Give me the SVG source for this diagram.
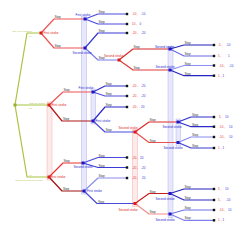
<svg xmlns="http://www.w3.org/2000/svg" width="250" height="240" viewBox="0 0 250 240">
<style>
text{font-family:"Liberation Sans",Arial,sans-serif;font-size:3px}
.e{fill:none;stroke-width:1.2;stroke-linejoin:round}
.g{stroke:#a8c440}
.stop{fill:#333}
.pr{fill:#e83030}
.pb{fill:#3030e0}
.lr{fill:#e02020}
.lb{fill:#2424d0}
.lg{fill:#a8c040;font-size:2.2px}
.bb{fill:#e8e8fc;stroke:#b4b4f0;stroke-width:.5}
.rb{fill:#fdeaea;stroke:#f4b0b0;stroke-width:.5}
.nr{fill:#e01818}
.nb{fill:#1818c8}
.nt{fill:#111}
.ng{fill:#98b030}
</style>
<rect width="250" height="240" fill="#fff"/>
<g id="infosets">
<rect class="bb" x="81.5" y="16" width="5" height="178"/>
<rect class="bb" x="91" y="89" width="4.5" height="35"/>
<rect class="rb" x="47" y="102" width="5" height="78"/>
<rect class="rb" x="132.5" y="129.5" width="5" height="77"/>
<rect class="bb" x="168" y="46.5" width="5" height="171"/>
<rect class="bb" x="176" y="119" width="4.5" height="27"/>
</g>
<g id="connectors">
<path class="e g" d="M15 105L27 33L41 33"/>
<path class="e g" d="M15 105L49 105"/>
<path class="e g" d="M15 105L27 177L49 177"/>
<path class="e" stroke="#ee5555" d="M41 33L54 19L85 19"/>
<path class="e" stroke="#ee5555" d="M41 33L54 48L85 48"/>
<path class="e" stroke="#4a4ae0" d="M85 19L98 14L127 14"/>
<path class="e" stroke="#4a4ae0" d="M85 19L98 24L127 24"/>
<path class="e" stroke="#3a3ad8" d="M85 48L98 33L127 33"/>
<path class="e" stroke="#7a7aee" d="M85 48L98 60L119 60"/>
<path class="e" stroke="#d42a2a" d="M119 60L133 49L170 49"/>
<path class="e" stroke="#e03a3a" d="M119 60L133 70L170 70"/>
<path class="e" stroke="#2424b8" d="M170 49L184 45L214 45"/>
<path class="e" stroke="#6a6ae8" d="M170 49L184 56L214 56"/>
<path class="e" stroke="#8e8ef2" d="M170 70L184 65.5L214 65.5"/>
<path class="e" stroke="#2424c0" d="M170 70L184 75.7L214 75.7"/>
<path class="e" stroke="#ee5555" d="M49 105L63 92L93 92"/>
<path class="e" stroke="#b01818" d="M49 105L62 121L93 121"/>
<path class="e" stroke="#3030d0" d="M93 92L105 86L127 86"/>
<path class="e" stroke="#4e4ee0" d="M93 92L105 96L127 96"/>
<path class="e" stroke="#2a2ac8" d="M93 121L105 107L127 107"/>
<path class="e" stroke="#4a4ae0" d="M93 121L105 132L135 132"/>
<path class="e" stroke="#e02a2a" d="M135 132L149 122L178 122"/>
<path class="e" stroke="#e85050" d="M135 132L149 142.5L178 142.5"/>
<path class="e" stroke="#3030c8" d="M178 122L191 117L214 117"/>
<path class="e" stroke="#2a2ac8" d="M178 122L191 126.7L214 126.7"/>
<path class="e" stroke="#8a8af0" d="M178 142.5L191 137L214 137"/>
<path class="e" stroke="#3a3ad4" d="M178 142.5L191 148L214 148"/>
<path class="e" stroke="#e83030" d="M49 177L63 163L83 163"/>
<path class="e" stroke="#a01010" d="M49 177L62 191L84 191"/>
<path class="e" stroke="#4a4ae0" d="M83 163L98 157.5L127 157.5"/>
<path class="e" stroke="#3a3ad8" d="M83 163L98 167.5L127 167.5"/>
<path class="e" stroke="#8c8cf0" d="M84 191L98 178L127 178"/>
<path class="e" stroke="#4a4ae0" d="M84 191L97 203.5L135 203.5"/>
<path class="e" stroke="#c82020" d="M135 203.5L149 193.5L170 193.5"/>
<path class="e" stroke="#f09090" d="M135 203.5L149 214L170 214"/>
<path class="e" stroke="#2424b8" d="M170 193.5L184 189L214 189"/>
<path class="e" stroke="#2a2ac0" d="M170 193.5L184 200L214 200"/>
<path class="e" stroke="#7070e8" d="M170 214L184 210L214 210"/>
<path class="e" stroke="#8080ec" d="M170 214L184 220.3L214 220.3"/>
</g>
<g id="edge-labels">
<text class="lg" x="22" y="32" text-anchor="middle">Only one is infected</text>
<text class="lg" x="30.5" y="36.5" text-anchor="middle">1/4</text>
<text class="lg" x="37.5" y="104" text-anchor="middle">Both are healthy</text>
<text class="lg" x="30.5" y="109" text-anchor="middle">1/2</text>
<text class="lg" x="30.5" y="175.5" text-anchor="middle">1/4</text>
<text class="lg" x="29" y="181" text-anchor="middle">Infected but both are healthy</text>
<text class="stop" x="54.5" y="18">Stop</text>
<text class="stop" x="54.5" y="47">Stop</text>
<text class="stop" x="98.5" y="13">Stop</text>
<text class="stop" x="98.5" y="23">Stop</text>
<text class="stop" x="98.5" y="32">Stop</text>
<text class="stop" x="98.5" y="59">Stop</text>
<text class="stop" x="133.5" y="48">Stop</text>
<text class="stop" x="133.5" y="69">Stop</text>
<text class="stop" x="184.5" y="44">Stop</text>
<text class="stop" x="184.5" y="55">Stop</text>
<text class="stop" x="184.5" y="64.5">Stop</text>
<text class="stop" x="184.5" y="74.7">Stop</text>
<text class="stop" x="63.5" y="91">Stop</text>
<text class="stop" x="63" y="120">Stop</text>
<text class="stop" x="105.5" y="85">Stop</text>
<text class="stop" x="105.5" y="95">Stop</text>
<text class="stop" x="105.5" y="106">Stop</text>
<text class="stop" x="105.5" y="131">Stop</text>
<text class="stop" x="149.5" y="121">Stop</text>
<text class="stop" x="149.5" y="141.5">Stop</text>
<text class="stop" x="192" y="116">Stop</text>
<text class="stop" x="192" y="125.7">Stop</text>
<text class="stop" x="192" y="136">Stop</text>
<text class="stop" x="192" y="147">Stop</text>
<text class="stop" x="63.5" y="162">Stop</text>
<text class="stop" x="63" y="190">Stop</text>
<text class="stop" x="98.5" y="156.5">Stop</text>
<text class="stop" x="98.5" y="166.5">Stop</text>
<text class="stop" x="98.5" y="177">Stop</text>
<text class="stop" x="98" y="202.5">Stop</text>
<text class="stop" x="149.5" y="192.5">Stop</text>
<text class="stop" x="149.5" y="213">Stop</text>
<text class="stop" x="184.5" y="188">Stop</text>
<text class="stop" x="184.5" y="199">Stop</text>
<text class="stop" x="184.5" y="209">Stop</text>
<text class="stop" x="184.5" y="219.3">Stop</text>
</g>
<g id="root"><rect class="ng" x="13.5" y="103.5" width="3" height="3"/></g>
<g id="R1"><rect class="nr" x="39.5" y="31.5" width="3" height="3"/><text class="lr" x="43.5" y="34.2">First stroke</text></g>
<g id="R3"><rect class="nr" x="47.5" y="103.5" width="3" height="3"/><text class="lr" x="51.5" y="106.2">First stroke</text></g>
<g id="R5"><rect class="nr" x="47.5" y="175.5" width="3" height="3"/><text class="lr" x="50.5" y="178.2">First stroke</text></g>
<g id="R2"><rect class="nr" x="117.5" y="58.5" width="3" height="3"/><text class="lr" x="113.5" y="56.5" text-anchor="middle">Second stroke</text></g>
<g id="R4"><rect class="nr" x="133.5" y="130.5" width="3" height="3"/><text class="lr" x="128" y="128.5" text-anchor="middle">Second stroke</text></g>
<g id="R6"><rect class="nr" x="133.5" y="202" width="3" height="3"/><text class="lr" x="128" y="211" text-anchor="middle">Second stroke</text></g>
<g id="B1"><rect class="nb" x="83.5" y="17.5" width="3" height="3"/><text class="lb" x="83" y="16" text-anchor="middle">First stroke</text></g>
<g id="B2"><rect class="nb" x="83.5" y="46.5" width="3" height="3"/><text class="lb" x="82" y="54" text-anchor="middle">Second stroke</text></g>
<g id="B5"><rect class="nb" x="91.5" y="90.5" width="3" height="3"/><text class="lb" x="86" y="88.5" text-anchor="middle">First stroke</text></g>
<g id="B6"><rect class="nb" x="91.5" y="119.5" width="3" height="3"/><text class="lb" x="95.5" y="122">First stroke</text></g>
<g id="B9"><rect class="nb" x="81.5" y="161.5" width="3" height="3"/><text class="lb" x="83" y="168" text-anchor="middle">Second stroke</text></g>
<g id="B10"><rect class="nb" x="82.5" y="189.5" width="3" height="3"/><text class="lb" x="87" y="192">First stroke</text></g>
<g id="B3"><rect class="nb" x="168.5" y="47.5" width="3" height="3"/><text class="lb" x="164.5" y="48" text-anchor="middle">Second stroke</text></g>
<g id="B4"><rect class="nb" x="168.5" y="68.5" width="3" height="3"/><text class="lb" x="165" y="67.5" text-anchor="middle">Second stroke</text></g>
<g id="B7"><rect class="nb" x="176.5" y="120.5" width="3" height="3"/><text class="lb" x="172" y="128" text-anchor="middle">Second stroke</text></g>
<g id="B8"><rect class="nb" x="176.5" y="141" width="3" height="3"/><text class="lb" x="173" y="149" text-anchor="middle">Second stroke</text></g>
<g id="B11"><rect class="nb" x="168.5" y="192" width="3" height="3"/><text class="lb" x="165" y="199.5" text-anchor="middle">Second stroke</text></g>
<g id="B12"><rect class="nb" x="168.5" y="212.5" width="3" height="3"/><text class="lb" x="165" y="221" text-anchor="middle">Second stroke</text></g>
<g id="terminals">
<rect class="nt" x="125.8" y="12.8" width="2.4" height="2.4"/><text x="132" y="15"><tspan class="pr">-10 ,</tspan><tspan class="pb" x="141">-10</tspan></text>
<rect class="nt" x="125.8" y="22.8" width="2.4" height="2.4"/><text x="132" y="25"><tspan class="pr">10 ,</tspan><tspan class="pb" x="139.5">0</tspan></text>
<rect class="nt" x="125.8" y="31.8" width="2.4" height="2.4"/><text x="132" y="34"><tspan class="pr">-20 ,</tspan><tspan class="pb" x="141">-20</tspan></text>
<rect class="nt" x="212.8" y="43.8" width="2.4" height="2.4"/><text x="218" y="46"><tspan class="pr">-5 ,</tspan><tspan class="pb" x="226">-10</tspan></text>
<rect class="nt" x="212.8" y="54.8" width="2.4" height="2.4"/><text x="218" y="57"><tspan class="pr">5 ,</tspan><tspan class="pb" x="228">1</tspan></text>
<rect class="nt" x="212.8" y="64.3" width="2.4" height="2.4"/><text x="219" y="66.5"><tspan class="pr">-10 ,</tspan><tspan class="pb" x="229">-10</tspan></text>
<rect class="nt" x="212.8" y="74.5" width="2.4" height="2.4"/><text x="218" y="76.7"><tspan class="pr">1 ,</tspan><tspan class="pb" x="222.5">1</tspan></text>
<rect class="nt" x="125.8" y="84.8" width="2.4" height="2.4"/><text x="132" y="87"><tspan class="pr">-20 ,</tspan><tspan class="pb" x="141">-20</tspan></text>
<rect class="nt" x="125.8" y="94.8" width="2.4" height="2.4"/><text x="132" y="97"><tspan class="pr">-20 ,</tspan><tspan class="pb" x="141">-20</tspan></text>
<rect class="nt" x="125.8" y="105.8" width="2.4" height="2.4"/><text x="132" y="108"><tspan class="pr">-20 ,</tspan><tspan class="pb" x="141">20</tspan></text>
<rect class="nt" x="212.8" y="115.8" width="2.4" height="2.4"/><text x="219" y="118"><tspan class="pr">5 ,</tspan><tspan class="pb" x="225">10</tspan></text>
<rect class="nt" x="212.8" y="125.5" width="2.4" height="2.4"/><text x="219" y="127.7"><tspan class="pr">-10 ,</tspan><tspan class="pb" x="229">10</tspan></text>
<rect class="nt" x="212.8" y="135.8" width="2.4" height="2.4"/><text x="219" y="138"><tspan class="pr">-10 ,</tspan><tspan class="pb" x="229">10</tspan></text>
<rect class="nt" x="212.8" y="146.8" width="2.4" height="2.4"/><text x="218" y="149"><tspan class="pr">1 ,</tspan><tspan class="pb" x="222.5">1</tspan></text>
<rect class="nt" x="125.8" y="156.3" width="2.4" height="2.4"/><text x="132" y="158.5"><tspan class="pr">-20 ,</tspan><tspan class="pb" x="140">20</tspan></text>
<rect class="nt" x="125.8" y="166.3" width="2.4" height="2.4"/><text x="132" y="168.5"><tspan class="pr">-20 ,</tspan><tspan class="pb" x="141">-20</tspan></text>
<rect class="nt" x="125.8" y="176.8" width="2.4" height="2.4"/><text x="132" y="179"><tspan class="pr">-20 ,</tspan><tspan class="pb" x="142">20</tspan></text>
<rect class="nt" x="212.8" y="187.8" width="2.4" height="2.4"/><text x="218" y="190"><tspan class="pr">5 ,</tspan><tspan class="pb" x="225">10</tspan></text>
<rect class="nt" x="212.8" y="198.8" width="2.4" height="2.4"/><text x="218" y="201"><tspan class="pr">5 ,</tspan><tspan class="pb" x="226">-10</tspan></text>
<rect class="nt" x="212.8" y="208.8" width="2.4" height="2.4"/><text x="219" y="211"><tspan class="pr">-10 ,</tspan><tspan class="pb" x="228">10</tspan></text>
<rect class="nt" x="212.8" y="219.1" width="2.4" height="2.4"/><text x="218" y="221.3"><tspan class="pr">1 ,</tspan><tspan class="pb" x="222.5">1</tspan></text>
</g>
</svg>
